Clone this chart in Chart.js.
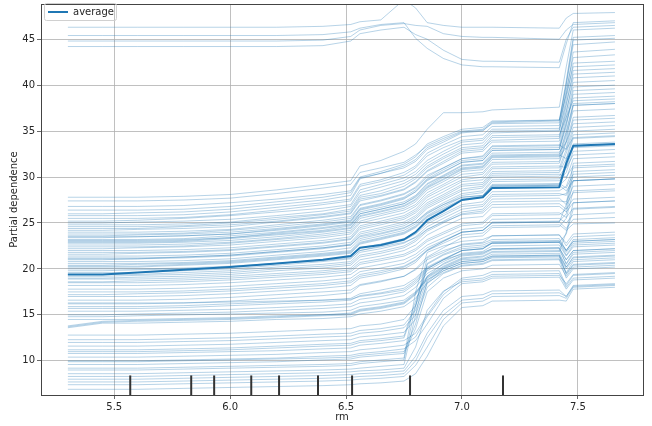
<!DOCTYPE html>
<html>
<head>
<meta charset="utf-8">
<script src="https://cdn.jsdelivr.net/npm/chart.js@4/dist/chart.umd.min.js"></script>
<style>
  body { margin: 0; background: #fff; }
  #wrap { width: 652px; height: 426px; }
</style>
</head>
<body>
<div id="wrap"><canvas id="pdp" width="652" height="426"></canvas></div>
<script>
var rmGrid = [5.30, 5.45, 5.60, 5.80, 6.00, 6.20, 6.40, 6.52, 6.56, 6.65, 6.75, 6.80, 6.85, 6.92, 7.00, 7.09, 7.13, 7.42, 7.45, 7.48, 7.66];

var averageCurve = [19.4, 19.4, 19.6, 19.9, 20.2, 20.6, 21.0, 21.4, 22.3, 22.6, 23.2, 24.0, 25.3, 26.3, 27.5, 27.8, 28.8, 28.9, 31.5, 33.4, 33.6];

// the few curves that sit up at 44-46
var iceHigh = [
  [46.3, 46.3, 46.3, 46.3, 46.3, 46.3, 46.4, 46.6, 46.9, 47.1, 49.3, 48.4, 46.8, 46.5, 46.3, 46.3, 46.3, 46.2, 47.3, 47.8, 47.9],
  [45.4, 45.4, 45.4, 45.4, 45.4, 45.4, 45.5, 45.8, 46.2, 46.6, 46.8, 45.1, 44.0, 42.9, 42.2, 42.0, 42.0, 41.9, 44.5, 46.8, 47.0],
  [44.2, 44.2, 44.2, 44.2, 44.2, 44.2, 44.3, 44.8, 45.6, 46.0, 46.3, 45.5, 45.0, 43.8, 42.8, 42.6, 42.6, 42.5, 45.0, 46.3, 46.5],
  [44.8, 44.8, 44.8, 44.8, 44.8, 44.8, 44.9, 45.3, 46.0, 46.5, 46.7, 46.5, 46.4, 45.6, 45.3, 45.2, 45.2, 45.0, 46.0, 46.6, 46.8]
];

var iceUpper = [
  [27.8, 27.8, 27.8, 27.9, 28.1, 28.6, 29.2, 29.6, 31.2, 31.8, 32.8, 33.6, 35.2, 37.0, 37.0, 37.1, 37.3, 37.6, 42.0, 46.0, 46.2],
  [26.0, 26.0, 26.1, 26.2, 26.5, 27.0, 27.5, 28.0, 29.8, 30.4, 31.0, 31.7, 33.0, 33.8, 34.8, 35.0, 35.9, 36.1, 40.0, 44.4, 44.7],
  [25.5, 25.5, 25.5, 25.6, 25.9, 26.4, 27.0, 27.4, 29.0, 29.5, 30.2, 31.0, 32.3, 33.2, 34.0, 34.2, 35.2, 35.3, 39.5, 43.0, 43.3],
  [25.0, 25.0, 25.1, 25.2, 25.4, 25.8, 26.3, 26.8, 28.3, 28.9, 29.6, 30.3, 31.5, 32.5, 33.5, 33.7, 34.8, 35.0, 38.5, 42.4, 42.6],
  [24.6, 24.6, 24.6, 24.7, 25.0, 25.4, 25.9, 26.3, 27.8, 28.2, 29.0, 29.8, 31.0, 32.0, 33.0, 33.2, 34.0, 34.2, 37.8, 41.6, 41.8],
  [24.2, 24.2, 24.3, 24.4, 24.6, 25.1, 25.6, 26.0, 27.4, 27.9, 28.6, 29.4, 30.6, 31.5, 32.6, 32.8, 33.8, 33.9, 37.0, 40.8, 41.0],
  [23.8, 23.8, 23.8, 23.9, 24.2, 24.6, 25.1, 25.5, 26.9, 27.4, 28.1, 28.8, 30.0, 31.0, 32.0, 32.2, 33.3, 33.4, 36.5, 39.8, 40.0],
  [23.4, 23.4, 23.5, 23.6, 23.8, 24.2, 24.7, 25.1, 26.4, 26.9, 27.6, 28.4, 29.6, 30.5, 31.6, 31.8, 32.9, 33.0, 36.0, 39.0, 39.2],
  [27.4, 27.4, 27.4, 27.5, 27.7, 28.2, 28.8, 29.2, 30.5, 31.0, 31.6, 32.4, 33.4, 34.2, 35.0, 35.2, 36.0, 36.2, 39.0, 42.0, 42.2],
  [23.0, 23.0, 23.0, 23.1, 23.4, 23.8, 24.2, 24.7, 26.0, 26.5, 27.1, 27.9, 29.2, 30.1, 31.2, 31.4, 32.4, 32.5, 35.0, 38.0, 38.2],
  [26.8, 26.8, 26.8, 26.9, 27.2, 27.6, 28.1, 28.5, 30.0, 30.6, 31.4, 32.2, 33.6, 34.4, 35.2, 35.4, 36.1, 36.2, 40.5, 45.2, 45.4],
  [25.2, 25.2, 25.3, 25.5, 25.8, 26.2, 26.6, 27.0, 28.6, 29.2, 29.9, 30.6, 31.8, 32.8, 33.8, 34.0, 35.0, 35.1, 38.0, 41.2, 41.4],
  [24.4, 24.4, 24.4, 24.6, 24.8, 25.2, 25.7, 26.1, 27.6, 28.0, 28.7, 29.5, 30.7, 31.7, 32.8, 33.0, 34.3, 34.4, 37.2, 40.3, 40.5],
  [23.6, 23.6, 23.7, 23.8, 24.0, 24.4, 24.9, 25.3, 26.6, 27.1, 27.8, 28.6, 29.8, 30.8, 31.8, 32.0, 33.1, 33.2, 35.8, 38.6, 38.8],
  [22.9, 22.9, 22.9, 23.0, 23.3, 23.7, 24.1, 24.5, 25.8, 26.3, 26.9, 27.6, 28.9, 29.8, 30.9, 31.1, 32.2, 32.3, 34.8, 37.8, 38.0],
  [26.4, 26.4, 26.4, 26.5, 26.8, 27.3, 27.8, 28.3, 29.9, 30.4, 31.2, 31.9, 33.2, 34.0, 34.9, 35.1, 35.8, 35.9, 40.2, 44.9, 45.1],
  [24.8, 24.8, 24.8, 24.9, 25.1, 25.6, 26.0, 26.5, 28.0, 28.5, 29.3, 30.0, 31.2, 32.2, 33.2, 33.4, 34.5, 34.6, 36.5, 38.3, 38.5],
  [23.2, 23.2, 23.2, 23.3, 23.6, 24.0, 24.5, 24.9, 26.2, 26.7, 27.3, 28.0, 29.3, 30.2, 31.3, 31.5, 32.6, 32.7, 33.8, 35.8, 36.0]
];

var iceMiddle = [
  [22.6, 22.6, 22.6, 22.7, 22.9, 23.3, 23.8, 24.2, 25.5, 26.0, 26.6, 27.3, 28.6, 29.5, 30.6, 30.8, 31.9, 32.0, 34.5, 37.2, 37.4],
  [22.2, 22.2, 22.3, 22.4, 22.6, 23.0, 23.4, 23.8, 25.0, 25.5, 26.1, 26.8, 28.0, 29.0, 30.0, 30.3, 31.4, 31.5, 33.8, 36.5, 36.7],
  [21.8, 21.8, 21.8, 21.9, 22.1, 22.5, 22.9, 23.3, 24.5, 25.0, 25.6, 26.3, 27.5, 28.4, 29.5, 29.7, 30.9, 31.0, 33.0, 35.4, 35.6],
  [21.4, 21.4, 21.4, 21.5, 21.7, 22.1, 22.5, 22.9, 24.0, 24.5, 25.1, 25.8, 27.0, 27.9, 29.0, 29.2, 30.4, 30.5, 32.0, 34.6, 34.8],
  [21.0, 21.0, 21.1, 21.2, 21.4, 21.8, 22.2, 22.6, 23.6, 24.1, 24.7, 25.4, 26.6, 27.5, 28.5, 28.8, 30.0, 30.1, 31.2, 33.6, 33.8],
  [20.6, 20.6, 20.6, 20.7, 20.9, 21.3, 21.7, 22.0, 23.1, 23.6, 24.2, 24.9, 26.0, 27.0, 28.0, 28.3, 29.5, 29.6, 30.5, 32.8, 33.0],
  [20.2, 20.2, 20.2, 20.4, 20.6, 21.0, 21.4, 21.7, 22.7, 23.2, 23.8, 24.5, 25.6, 26.5, 27.5, 27.8, 29.0, 29.1, 29.8, 32.0, 32.2],
  [19.8, 19.8, 19.9, 20.0, 20.2, 20.6, 21.0, 21.3, 22.3, 22.7, 23.3, 24.0, 25.1, 26.0, 27.0, 27.3, 28.4, 28.5, 29.0, 31.0, 31.2],
  [19.4, 19.4, 19.4, 19.6, 19.8, 20.2, 20.5, 20.8, 21.8, 22.2, 22.8, 23.5, 24.6, 25.5, 26.5, 26.8, 27.9, 28.0, 28.2, 30.0, 30.2],
  [19.0, 19.0, 19.1, 19.2, 19.4, 19.8, 20.1, 20.4, 21.3, 21.7, 22.3, 23.0, 24.1, 25.0, 26.0, 26.3, 27.3, 27.4, 27.3, 29.0, 29.2],
  [24.0, 24.0, 24.0, 24.1, 24.3, 24.8, 25.3, 25.7, 27.0, 27.5, 28.2, 28.9, 30.2, 31.0, 32.0, 32.3, 33.4, 33.5, 33.0, 34.3, 34.5],
  [23.1, 23.1, 23.1, 23.2, 23.4, 23.9, 24.4, 24.8, 26.0, 26.5, 27.1, 27.8, 29.0, 30.0, 31.0, 31.2, 32.3, 32.4, 32.0, 33.3, 33.5],
  [21.2, 21.2, 21.2, 21.3, 21.5, 21.9, 22.3, 22.6, 23.5, 23.9, 24.5, 25.1, 26.1, 27.0, 27.8, 28.0, 29.0, 29.1, 28.5, 29.6, 29.8],
  [20.0, 20.0, 20.0, 20.1, 20.3, 20.6, 20.9, 21.2, 22.0, 22.4, 22.9, 23.4, 24.3, 25.1, 25.9, 26.1, 27.0, 27.1, 26.5, 27.6, 27.8],
  [18.6, 18.6, 18.7, 18.8, 19.0, 19.3, 19.6, 19.9, 20.7, 21.1, 21.6, 22.2, 23.2, 24.0, 24.9, 25.1, 26.0, 26.1, 25.6, 26.6, 26.8],
  [25.8, 25.8, 25.8, 25.9, 26.2, 26.7, 27.2, 27.6, 29.2, 29.7, 30.5, 31.2, 32.6, 33.5, 34.4, 34.6, 35.5, 35.6, 39.0, 43.6, 43.9],
  [22.4, 22.4, 22.4, 22.5, 22.8, 23.2, 23.6, 24.0, 25.2, 25.8, 26.4, 27.0, 28.3, 29.2, 30.3, 30.5, 31.6, 31.7, 34.0, 37.8, 38.0],
  [22.0, 22.0, 22.0, 22.1, 22.3, 22.7, 23.1, 23.5, 24.7, 25.2, 25.8, 26.5, 27.8, 28.7, 29.7, 30.0, 31.1, 31.2, 31.0, 32.4, 32.6],
  [21.6, 21.6, 21.7, 21.8, 22.0, 22.4, 22.8, 23.2, 24.3, 24.8, 25.4, 26.1, 27.2, 28.1, 29.2, 29.4, 30.6, 30.7, 32.6, 35.0, 35.2],
  [21.1, 21.1, 21.1, 21.3, 21.5, 21.9, 22.3, 22.7, 23.8, 24.3, 24.9, 25.6, 26.8, 27.7, 28.7, 29.0, 30.2, 30.3, 30.0, 31.2, 31.4],
  [20.8, 20.8, 20.8, 20.9, 21.1, 21.5, 21.9, 22.3, 23.3, 23.8, 24.4, 25.1, 26.2, 27.2, 28.2, 28.5, 29.7, 29.8, 31.0, 33.2, 33.4],
  [20.4, 20.4, 20.5, 20.6, 20.8, 21.2, 21.6, 21.9, 22.9, 23.4, 24.0, 24.7, 25.8, 26.8, 27.8, 28.0, 29.2, 29.3, 28.8, 30.3, 30.5],
  [19.6, 19.6, 19.6, 19.8, 20.0, 20.4, 20.8, 21.1, 22.0, 22.5, 23.1, 23.8, 24.9, 25.8, 26.8, 27.0, 28.1, 28.2, 28.0, 29.6, 29.8],
  [19.2, 19.2, 19.3, 19.4, 19.6, 20.0, 20.3, 20.6, 21.5, 21.9, 22.5, 23.2, 24.3, 25.2, 26.2, 26.5, 27.6, 27.7, 27.0, 28.3, 28.5],
  [18.9, 18.9, 18.9, 19.0, 19.2, 19.5, 19.8, 20.1, 21.0, 21.4, 22.0, 22.6, 23.7, 24.6, 25.5, 25.7, 26.7, 26.8, 26.2, 27.2, 27.4],
  [23.5, 23.5, 23.5, 23.6, 23.8, 24.3, 24.8, 25.2, 26.5, 27.0, 27.7, 28.4, 29.7, 30.6, 31.6, 31.8, 32.9, 33.0, 35.5, 39.4, 39.6],
  [22.8, 22.8, 22.8, 22.9, 23.1, 23.5, 24.0, 24.4, 25.7, 26.2, 26.8, 27.5, 28.8, 29.7, 30.8, 31.0, 32.1, 32.2, 33.2, 36.2, 36.4],
  [20.3, 20.3, 20.3, 20.5, 20.7, 21.1, 21.5, 21.8, 22.8, 23.3, 23.9, 24.6, 25.7, 26.6, 27.6, 27.9, 29.1, 29.2, 31.8, 34.2, 34.4]
];

var iceLower = [
  [18.2, 18.2, 18.2, 18.3, 18.5, 18.8, 19.1, 19.4, 20.1, 20.5, 21.0, 21.6, 22.6, 23.4, 24.3, 24.5, 25.4, 25.5, 25.0, 25.9, 26.1],
  [17.5, 17.5, 17.5, 17.6, 17.8, 18.1, 18.4, 18.7, 19.4, 19.8, 20.3, 21.0, 22.0, 22.8, 23.7, 23.9, 24.7, 24.8, 24.2, 24.9, 25.0],
  [16.6, 16.6, 16.6, 16.7, 16.9, 17.2, 17.5, 17.7, 18.3, 18.7, 19.2, 19.9, 21.0, 21.8, 22.7, 22.9, 23.6, 23.7, 22.8, 23.8, 24.0],
  [15.9, 15.9, 15.9, 16.0, 16.2, 16.4, 16.6, 16.8, 17.3, 17.7, 18.2, 19.0, 20.2, 21.1, 22.0, 22.2, 22.8, 22.9, 21.8, 22.8, 23.0],
  [15.0, 15.0, 15.1, 15.2, 15.3, 15.5, 15.7, 15.9, 16.3, 16.6, 17.1, 18.0, 19.5, 20.5, 21.4, 21.6, 22.1, 22.2, 21.0, 22.0, 22.2],
  [13.7, 14.2, 14.3, 14.4, 14.5, 14.7, 14.9, 15.0, 15.4, 15.7, 16.2, 17.2, 19.0, 20.1, 21.0, 21.1, 21.6, 21.7, 20.2, 21.3, 21.5],
  [13.6, 14.1, 14.1, 14.2, 14.3, 14.5, 14.6, 14.8, 15.1, 15.4, 15.9, 16.8, 18.5, 19.6, 20.4, 20.6, 21.0, 21.1, 19.6, 20.8, 21.0],
  [14.8, 14.8, 14.9, 15.0, 15.1, 15.2, 15.3, 15.5, 15.9, 16.2, 16.6, 17.5, 18.8, 19.8, 20.6, 20.8, 21.3, 21.4, 20.0, 21.0, 21.2],
  [16.2, 16.2, 16.2, 16.3, 16.5, 16.8, 17.1, 17.4, 18.2, 18.6, 19.2, 20.0, 21.3, 22.3, 23.4, 23.6, 24.5, 24.6, 25.5, 28.5, 28.7],
  [17.0, 17.0, 17.0, 17.1, 17.3, 17.6, 17.9, 18.2, 19.0, 19.4, 20.0, 20.7, 22.0, 23.0, 24.0, 24.2, 25.1, 25.2, 26.0, 29.6, 29.8],
  [18.5, 18.5, 18.5, 18.6, 18.8, 19.1, 19.4, 19.7, 20.5, 20.9, 21.4, 22.0, 23.0, 23.8, 24.7, 24.9, 25.8, 25.9, 26.5, 30.6, 30.8],
  [17.8, 17.8, 17.8, 17.9, 18.1, 18.4, 18.7, 19.0, 19.7, 20.1, 20.6, 21.3, 22.3, 23.1, 24.0, 24.2, 25.0, 25.1, 24.4, 25.4, 25.6],
  [16.3, 16.3, 16.3, 16.3, 16.4, 16.5, 16.6, 16.7, 17.0, 17.3, 17.7, 18.6, 20.0, 21.0, 22.0, 22.2, 22.9, 23.0, 22.0, 23.2, 23.4],
  [15.4, 15.4, 15.4, 15.5, 15.6, 15.8, 16.0, 16.2, 16.7, 17.0, 17.5, 18.4, 19.8, 20.8, 21.7, 21.9, 22.5, 22.6, 21.4, 22.4, 22.6],
  [14.5, 14.5, 14.5, 14.6, 14.7, 14.9, 15.0, 15.2, 15.6, 15.9, 16.4, 17.4, 19.2, 20.3, 21.2, 21.4, 21.9, 22.0, 20.6, 21.8, 22.0],
  [13.8, 14.3, 14.4, 14.5, 14.6, 14.8, 15.0, 15.1, 15.5, 15.8, 16.3, 17.3, 19.1, 20.2, 21.1, 21.3, 21.8, 21.9, 24.0, 27.2, 27.4],
  [17.2, 17.2, 17.3, 17.4, 17.6, 17.9, 18.2, 18.5, 19.2, 19.6, 20.2, 20.9, 22.1, 23.0, 24.0, 24.2, 25.0, 25.1, 27.0, 31.5, 31.7],
  [15.7, 15.7, 15.7, 15.8, 16.0, 16.2, 16.4, 16.6, 17.1, 17.4, 17.9, 18.8, 20.1, 21.0, 22.0, 22.2, 22.8, 22.9, 23.8, 26.5, 26.7]
];

var iceBottom = [
  [12.3, 12.3, 12.3, 12.4, 12.5, 12.7, 12.9, 13.0, 13.3, 13.5, 13.9, 15.5, 18.8, 20.0, 20.8, 21.0, 21.4, 21.5, 19.5, 20.5, 20.7],
  [11.6, 11.6, 11.6, 11.7, 11.8, 12.0, 12.2, 12.3, 12.6, 12.8, 13.1, 14.5, 18.0, 19.5, 20.3, 20.5, 20.9, 21.0, 19.0, 20.0, 20.2],
  [10.8, 10.8, 10.8, 10.9, 11.0, 11.1, 11.3, 11.4, 11.7, 11.9, 12.2, 13.0, 15.0, 17.5, 19.0, 19.3, 19.7, 19.8, 18.2, 19.3, 19.5],
  [10.0, 10.0, 10.0, 10.1, 10.2, 10.3, 10.5, 10.6, 10.8, 11.0, 11.3, 12.2, 14.0, 16.8, 18.4, 18.6, 19.0, 19.1, 17.8, 18.8, 19.0],
  [9.2, 9.2, 9.2, 9.3, 9.4, 9.5, 9.6, 9.7, 9.9, 10.1, 10.3, 17.5, 21.8, 22.5, 23.0, 23.2, 23.6, 23.7, 22.5, 23.5, 23.7],
  [8.6, 8.6, 8.6, 8.7, 8.8, 8.9, 9.0, 9.1, 9.2, 9.4, 9.6, 15.0, 20.5, 21.5, 22.2, 22.4, 22.8, 22.9, 21.5, 22.6, 22.8],
  [8.0, 8.0, 8.0, 8.1, 8.2, 8.3, 8.4, 8.5, 8.6, 8.7, 8.9, 10.5, 13.0, 15.5, 17.0, 17.2, 17.6, 17.7, 17.0, 18.2, 18.4],
  [7.4, 7.4, 7.4, 7.5, 7.6, 7.7, 7.8, 7.9, 8.0, 8.1, 8.3, 9.5, 11.5, 14.5, 16.3, 16.5, 17.0, 17.1, 16.8, 18.0, 18.2],
  [6.9, 6.9, 6.9, 7.0, 7.1, 7.2, 7.3, 7.4, 7.5, 7.6, 7.8, 8.6, 10.5, 13.8, 15.8, 16.0, 16.5, 16.6, 16.5, 17.8, 18.0],
  [11.2, 11.2, 11.2, 11.3, 11.4, 11.6, 11.8, 11.9, 12.2, 12.4, 12.7, 16.5, 20.0, 21.0, 21.6, 21.8, 22.2, 22.3, 21.0, 22.0, 22.2],
  [9.6, 9.6, 9.6, 9.7, 9.8, 9.9, 10.1, 10.2, 10.4, 10.6, 10.8, 13.5, 17.5, 19.0, 19.8, 20.0, 20.4, 20.5, 19.2, 20.2, 20.4],
  [12.8, 12.8, 12.8, 12.9, 13.0, 13.2, 13.4, 13.5, 13.8, 14.0, 14.5, 16.0, 19.2, 20.6, 21.5, 21.7, 22.2, 22.3, 20.5, 21.6, 21.8],
  [12.0, 12.0, 12.0, 12.1, 12.2, 12.4, 12.6, 12.7, 13.0, 13.2, 13.6, 15.0, 18.4, 19.8, 20.6, 20.8, 21.2, 21.3, 19.4, 20.4, 20.6],
  [11.0, 11.0, 11.0, 11.1, 11.2, 11.4, 11.6, 11.7, 12.0, 12.2, 12.5, 16.0, 20.6, 21.6, 22.4, 22.6, 23.0, 23.1, 22.0, 23.0, 23.2],
  [10.4, 10.4, 10.4, 10.5, 10.6, 10.7, 10.9, 11.0, 11.2, 11.4, 11.7, 12.6, 14.8, 17.2, 18.8, 19.0, 19.4, 19.5, 18.0, 19.0, 19.2],
  [9.0, 9.0, 9.0, 9.1, 9.2, 9.3, 9.4, 9.5, 9.7, 9.9, 10.1, 16.0, 21.2, 22.0, 22.6, 22.8, 23.2, 23.3, 22.0, 23.0, 23.2],
  [8.3, 8.3, 8.3, 8.4, 8.5, 8.6, 8.7, 8.8, 8.9, 9.0, 9.2, 11.5, 15.5, 17.6, 18.6, 18.8, 19.2, 19.3, 18.4, 19.4, 19.6],
  [7.7, 7.7, 7.7, 7.8, 7.9, 8.0, 8.1, 8.2, 8.3, 8.4, 8.6, 10.0, 12.5, 15.0, 16.6, 16.8, 17.3, 17.4, 17.0, 18.1, 18.3],
  [9.9, 9.9, 9.9, 10.0, 10.1, 10.2, 10.3, 10.4, 10.6, 10.8, 11.0, 14.0, 18.6, 20.0, 20.8, 21.0, 21.4, 21.5, 20.2, 21.2, 21.4]
];

// deciles of rm shown as the rug at the bottom
var rmDeciles = [5.569, 5.832, 5.931, 6.091, 6.211, 6.379, 6.526, 6.776, 7.177];

var xTickValues = [5.5, 6.0, 6.5, 7.0, 7.5];
var yTickValues = [10, 15, 20, 25, 30, 35, 40, 45];

var X_MIN = 5.184, X_MAX = 7.781;
var Y_MIN = 6.28, Y_MAX = 48.83;
var RUG_TOP = Y_MIN + 0.05 * (Y_MAX - Y_MIN);

var iceColor = 'rgba(31, 119, 180, 0.32)';
var textColor = '#262626';

function toPoints(curve) {
    return rmGrid.map(function (x, i) { return { x: x, y: curve[i] }; });
}

var datasets = [];

datasets.push({
    label: 'average',
    data: toPoints(averageCurve),
    borderColor: '#1f77b4',
    backgroundColor: '#1f77b4',
    borderWidth: 2,
    pointRadius: 0,
    order: 0
});

[iceHigh, iceUpper, iceMiddle, iceLower, iceBottom].forEach(function (group) {
    group.forEach(function (curve) {
        datasets.push({
            label: '',
            data: toPoints(curve),
            borderColor: iceColor,
            borderWidth: 1,
            pointRadius: 0,
            order: 2
        });
    });
});

rmDeciles.forEach(function (d) {
    datasets.push({
        label: '',
        data: [{ x: d, y: Y_MIN }, { x: d, y: RUG_TOP }],
        borderColor: '#333333',
        borderWidth: 2,
        pointRadius: 0,
        order: 1
    });
});

// box round the plot and round the legend, like matplotlib
var framePlugin = {
    id: 'frame',
    afterDatasetsDraw: function (chart) {
        var a = chart.chartArea, ctx = chart.ctx;
        ctx.save();
        ctx.strokeStyle = '#444444';
        ctx.lineWidth = 1;
        ctx.strokeRect(Math.round(a.left) + 0.5, Math.round(a.top) + 0.5,
            Math.round(a.right - a.left), Math.round(a.bottom - a.top));
        ctx.restore();
    },
    afterDraw: function (chart) {
        var lg = chart.legend;
        if (!lg || !lg.legendHitBoxes || !lg.legendHitBoxes.length) return;
        var h = lg.legendHitBoxes[0], ctx = chart.ctx;
        var x = h.left - 3.5, y = h.top - 3.5, w = h.width + 6, hh = h.height + 7;
        ctx.save();
        ctx.strokeStyle = '#d0d0d0';
        ctx.lineWidth = 1;
        ctx.beginPath();
        if (ctx.roundRect) ctx.roundRect(x, y, w, hh, 2); else ctx.rect(x, y, w, hh);
        ctx.stroke();
        ctx.restore();
    }
};

Chart.defaults.font.family = '"DejaVu Sans", sans-serif';
Chart.defaults.font.size = 10;
Chart.defaults.color = textColor;

new Chart(document.getElementById('pdp').getContext('2d'), {
    type: 'line',
    data: { datasets: datasets },
    options: {
        responsive: false,
        animation: false,
        parsing: false,
        normalized: true,
        layout: { padding: { top: 4, right: 9, left: 0, bottom: 0 } },
        elements: { line: { tension: 0, fill: false, borderJoinStyle: 'round' } },
        plugins: {
            tooltip: { enabled: false },
            legend: {
                position: 'chartArea',
                align: 'start',
                labels: {
                    padding: 7,
                    usePointStyle: true,
                    pointStyle: 'line',
                    pointStyleWidth: 20,
                    color: textColor,
                    font: { size: 10 },
                    filter: function (item) { return item.text === 'average'; }
                }
            }
        },
        scales: {
            x: {
                type: 'linear',
                min: X_MIN,
                max: X_MAX,
                border: { display: false },
                grid: { color: '#b0b0b0', lineWidth: 0.8, tickColor: '#444444', tickLength: 4 },
                ticks: {
                    padding: 2,
                    color: textColor,
                    callback: function (v) { return v.toFixed(1); }
                },
                afterBuildTicks: function (scale) {
                    scale.ticks = xTickValues.map(function (v) { return { value: v }; });
                },
                afterFit: function (scale) {
                    scale.height = 31;
                    scale.paddingLeft = 0;
                    scale.paddingRight = 0;
                },
                title: { display: true, text: 'rm', color: textColor, font: { size: 10 }, padding: { top: 0, bottom: 3 } }
            },
            y: {
                type: 'linear',
                min: Y_MIN,
                max: Y_MAX,
                border: { display: false },
                grid: { color: '#b0b0b0', lineWidth: 0.8, tickColor: '#444444', tickLength: 4 },
                ticks: { padding: 2, color: textColor },
                afterBuildTicks: function (scale) {
                    scale.ticks = yTickValues.map(function (v) { return { value: v }; });
                },
                afterFit: function (scale) {
                    scale.width = 41;
                    scale.paddingTop = 0;
                    scale.paddingBottom = 0;
                },
                title: { display: true, text: 'Partial dependence', color: textColor, font: { size: 10 }, padding: { top: 8, bottom: 0 } }
            }
        }
    },
    plugins: [framePlugin]
});
</script>
</body>
</html>
